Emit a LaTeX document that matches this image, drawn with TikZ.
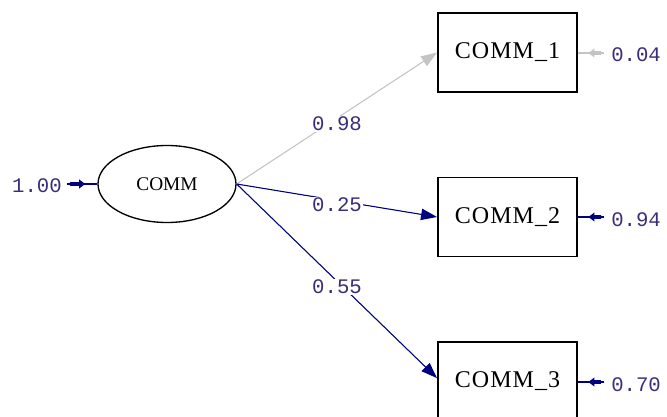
\documentclass[tikz,border=0pt]{standalone}
\usepackage{fontspec}
\setmainfont{Liberation Serif}
\newfontfamily\numfont{Liberation Mono}
\usetikzlibrary{arrows.meta,shapes.geometric,calc}
\definecolor{pathnavy}{HTML}{000080}
\definecolor{pathgray}{HTML}{C4C4C4}
\definecolor{numcol}{HTML}{3A2E78}
\tikzset{
  obsbox/.style={draw=black, line width=1.4pt, minimum width=104.25pt, minimum height=59.25pt,
    inner sep=0pt, font=\fontsize{18}{20}\selectfont},
  latent/.style={draw=black, line width=1pt, ellipse, minimum width=103.5pt, minimum height=57.75pt,
    inner sep=0pt, font=\fontsize{14.5}{16}\selectfont},
  coef/.style={fill=white, inner sep=1pt, text=numcol, font=\numfont\fontsize{15.5}{17}\selectfont},
  errlabel/.style={inner sep=0pt, text=numcol, font=\numfont\fontsize{15.5}{17}\selectfont},
  loading/.style={line width=0.8pt, -{Triangle[length=12pt,width=8.5pt]}},
  errline/.style={line width=1.2pt},
  errhead/.style={line width=2.8pt, shorten <=2.2pt, -{Triangle[length=4.5pt,width=6.5pt]}},
}
\begin{document}
\begin{tikzpicture}[x=0.75pt, y=-0.75pt]
  \useasboundingbox (0,0) rectangle (667,417);
  \clip (0,0) rectangle (667,417);

  % latent variable and its indicators
  \node[latent] (comm) at (167,184) {COMM};
  \node[obsbox] (c1) at (507.5,52.5) {C\kern0.8pt O\kern0.8pt M\kern0.8pt M\kern0.8pt\_\kern0.8pt 1};
  \node[obsbox] (c2) at (507.5,217) {C\kern0.8pt O\kern0.8pt M\kern0.8pt M\kern0.8pt\_\kern0.8pt 2};
  \node[obsbox] (c3) at (507.5,381.5) {C\kern0.8pt O\kern0.8pt M\kern0.8pt M\kern0.8pt\_\kern0.8pt 3};

  % factor loadings
  \draw[loading, draw=pathgray, fill=pathgray] (comm.east) -- (c1.west);
  \draw[loading, draw=pathnavy, fill=pathnavy] (comm.east) -- (c2.west);
  \draw[loading, draw=pathnavy, fill=pathnavy] (comm.east) -- ([yshift=2.5pt]c3.west);
  \node[coef] (l1) at (337,124) {0.98};
  \node[coef] (l2) at (337,205) {0.25};
  \node[coef] (l3) at (337,287) {0.55};

  % variance of the latent variable
  \coordinate (v0) at (67,184);
  \draw[errline, draw=pathnavy] (v0) -- (comm.west);
  \draw[errhead, draw=pathnavy, fill=pathnavy] (v0) -- ($(v0)!0.6!(comm.west)$);
  \node[errlabel] (v0l) at (37,186) {1.00};

  % error variances
  \coordinate (e1) at (604,53);
  \coordinate (e2) at (604,217);
  \coordinate (e3) at (604,382);
  \draw[errline, draw=pathgray] (e1) -- (c1.east |- e1);
  \draw[errhead, draw=pathgray, fill=pathgray] (e1) -- ($(e1)!0.6!(c1.east |- e1)$);
  \draw[errline, draw=pathnavy] (e2) -- (c2.east |- e2);
  \draw[errhead, draw=pathnavy, fill=pathnavy] (e2) -- ($(e2)!0.6!(c2.east |- e2)$);
  \draw[errline, draw=pathnavy] (e3) -- (c3.east |- e3);
  \draw[errhead, draw=pathnavy, fill=pathnavy] (e3) -- ($(e3)!0.6!(c3.east |- e3)$);
  \node[errlabel, anchor=west] (e1l) at (611,55) {0.04};
  \node[errlabel, anchor=west] (e2l) at (611,220) {0.94};
  \node[errlabel, anchor=west] (e3l) at (611,385) {0.70};
\end{tikzpicture}
\end{document}
